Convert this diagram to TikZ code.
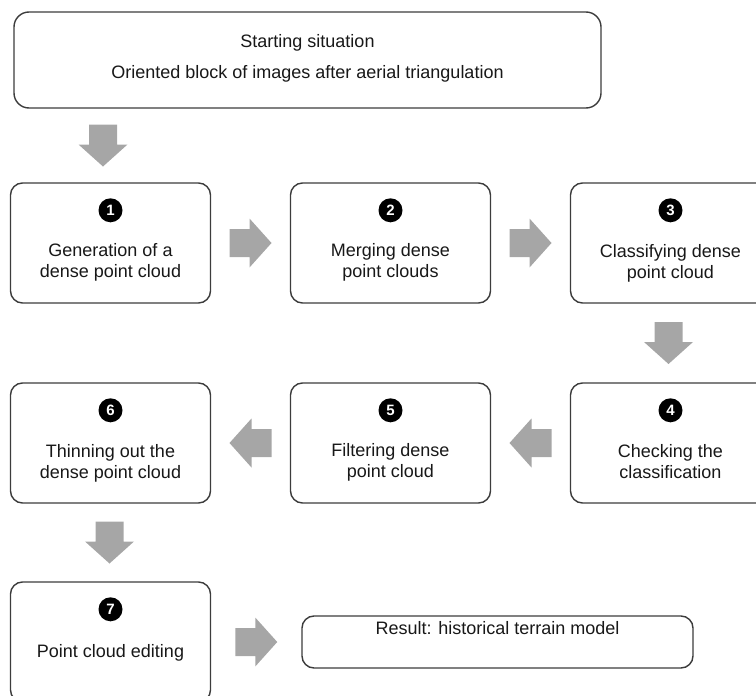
\documentclass[tikz,border=0pt]{standalone}
\usepackage{fontspec}
\setmainfont{Liberation Sans}
\usetikzlibrary{calc}
\definecolor{arrowgray}{RGB}{166,166,166}
\definecolor{boxline}{RGB}{60,60,60}
\definecolor{txt}{RGB}{24,24,24}
\newcommand\arrowR[1]{\fill[arrowgray, shift={(#1)}] (-21,-14) -- (-1,-14) -- (-1,-24.5) -- (21,0) -- (-1,24.5) -- (-1,14) -- (-21,14) -- cycle;}
\newcommand\arrowL[1]{\fill[arrowgray, shift={(#1)}] (21,-14) -- (1,-14) -- (1,-24.5) -- (-21,0) -- (1,24.5) -- (1,14) -- (21,14) -- cycle;}
\newcommand\arrowD[1]{\fill[arrowgray, shift={(#1)}] (-14,-21) -- (-14,-1) -- (-24.5,-1) -- (0,21) -- (24.5,-1) -- (14,-1) -- (14,-21) -- cycle;}
\begin{document}
\begin{tikzpicture}[x=1pt,y=-1pt,
  box/.style={draw=boxline, line width=1.4pt, rounded corners=12pt, fill=white,
    inner sep=0pt, minimum width=200pt, minimum height=120pt},
  num/.style={circle, fill=black, inner sep=0pt, minimum size=24pt, text=white,
    font=\fontsize{15}{15}\selectfont\bfseries},
  lbl/.style={font=\fontsize{18}{21}\selectfont, text=txt, anchor=base, inner sep=0pt}]
\useasboundingbox (0,0) rectangle (756,696);
\clip (0,0) rectangle (756,696);

% start box
\node[box, minimum width=587pt, minimum height=96pt, rounded corners=15pt] (start) at (307.5,60) {};
\node[lbl] (st1) at (307.5,47) {Starting situation};
\node[lbl] (st2) at (307.5,78) {Oriented block of images after aerial triangulation};

% row 1
\node[box] (b1) at (110.5,243) {};
\node[box] (b2) at (390.5,243) {};
\node[box] (b3) at (670.5,243) {};
% row 2
\node[box] (b4) at (670.5,443) {};
\node[box] (b5) at (390.5,443) {};
\node[box] (b6) at (110.5,443) {};
% row 3
\node[box] (b7) at (110.5,642) {};
\node[box, minimum width=391pt, minimum height=52pt] (res) at (497.5,642) {};

% numbers
\node[num] (n1) at ($(b1.north)+(0,28)$) {1};
\node[num] (n2) at ($(b2.north)+(0,28)$) {2};
\node[num] (n3) at ($(b3.north)+(0,28)$) {3};
\node[num] (n4) at ($(b4.north)+(0,28)$) {4};
\node[num] (n5) at ($(b5.north)+(0,28)$) {5};
\node[num] (n6) at ($(b6.north)+(0,28)$) {6};
\node[num] (n7) at ($(b7.north)+(0,28)$) {7};

% texts
\node[lbl] (t1a) at ($(b1.north)+(0,74)$) {Generation of a};
\node[lbl] (t1b) at ($(b1.north)+(0,95)$) {dense point cloud};
\node[lbl] (t2a) at ($(b2.north)+(0,74)$) {Merging dense};
\node[lbl] (t2b) at ($(b2.north)+(0,95)$) {point clouds};
\node[lbl] (t3a) at ($(b3.north)+(0,75)$) {Classifying dense};
\node[lbl] (t3b) at ($(b3.north)+(0,96)$) {point cloud};
\node[lbl] (t4a) at ($(b4.north)+(0,75)$) {Checking the};
\node[lbl] (t4b) at ($(b4.north)+(0,96)$) {classification};
\node[lbl] (t5a) at ($(b5.north)+(0,74)$) {Filtering dense};
\node[lbl] (t5b) at ($(b5.north)+(0,95)$) {point cloud};
\node[lbl] (t6a) at ($(b6.north)+(0,75)$) {Thinning out the};
\node[lbl] (t6b) at ($(b6.north)+(0,96)$) {dense point cloud};
\node[lbl] (t7) at ($(b7.north)+(0,76)$) {Point cloud editing};
\node[lbl] (tr) at ($(res.north)+(0,19)$) {Result: historical terrain model};

% block arrows, placed between the named boxes
\coordinate (a01) at ($(b1.north)!0.5!(b1.north |- start.south)+(-7.5,0)$);
\coordinate (a12) at ($(b1.east)!0.5!(b2.west)$);
\coordinate (a23) at ($(b2.east)!0.5!(b3.west)$);
\coordinate (a34) at ($(b3.south)!0.5!(b4.north)+(-2,0)$);
\coordinate (a45) at ($(b4.west)!0.5!(b5.east)$);
\coordinate (a56) at ($(b5.west)!0.5!(b6.east)$);
\coordinate (a67) at ($(b6.south)!0.5!(b7.north)+(-1,0)$);
\coordinate (a7r) at ($(b7.east)!0.5!(res.west)$);
\arrowD{a01}
\arrowR{a12}
\arrowR{a23}
\arrowD{a34}
\arrowL{a45}
\arrowL{a56}
\arrowD{a67}
\arrowR{a7r}
\end{tikzpicture}
\end{document}
